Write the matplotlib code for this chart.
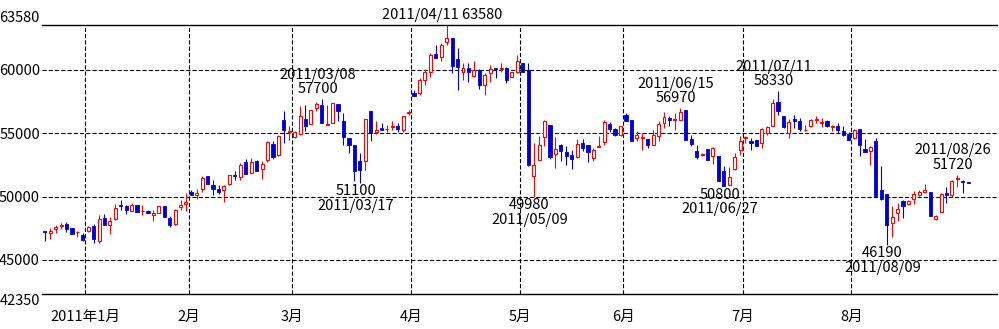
import numpy as np
import matplotlib.pyplot as plt

plt.rcParams['font.family'] = ['Noto Sans CJK JP', 'DejaVu Sans']
plt.rcParams['lines.scale_dashes'] = False

# daily candles, last days of 2010/12 to 2011/08/30 (one entry per trading day)
opens = [47260, 47130, 47470, 47680, 47860, 47550, 47180, 47000, 47310, 47710,
         46520, 48340, 47730, 48260, 49360, 49230, 48840, 49310, 48860, 48890,
         48520, 48680, 49280, 48340, 47840, 49150, 49410, 50390, 50150, 50600,
         51650, 50940, 50620, 50490, 50990, 51670, 51540, 52700, 51860, 52780,
         52170, 52860, 54170, 53300, 56060, 55060, 54690, 54960, 56140, 55720,
         56980, 57240, 55610, 55800, 57290, 55930, 54620, 54090, 52780, 52780,
         56720, 55090, 55400, 55320, 55480, 55590, 55270, 56590, 58210, 58210,
         59210, 59870, 61230, 61050, 62230, 62500, 60840, 59820, 60130, 59550,
         60000, 58820, 59740, 60180, 60080, 60180, 59420, 59870, 60530, 60000,
         51590, 52850, 54690, 55670, 53380, 54090, 53510, 53300, 53120, 54220,
         54090, 53040, 53900, 54300, 55740, 55320, 54880, 56450, 56060, 54620,
         54590, 54560, 54090, 54750, 55800, 56220, 56060, 56060, 56800, 54560,
         53560, 53250, 53750, 53170, 53170, 51990, 50910, 52200, 53640, 54590,
         54410, 54460, 54220, 55010, 55530, 57430, 56320, 55010, 56140, 55930,
         55220, 55530, 56010, 55800, 55980, 55480, 55530, 55140, 54930, 54610,
         55320, 53770, 53620, 54350, 50540, 50230, 47920, 48700, 49680, 49410,
         49810, 50100, 50330, 50360, 48230, 48760, 50280, 50150, 51410, 51200,
         51150]
highs = [47310, 47520, 47730, 47920, 47970, 47550, 47260, 47130, 47650, 47840,
         48520, 48650, 48360, 49440, 49760, 49360, 49490, 49360, 49360, 48970,
         48970, 49280, 49280, 48440, 49050, 49760, 50280, 50540, 50620, 51590,
         51650, 51280, 50940, 50940, 51730, 51990, 52650, 52990, 53040, 52910,
         52780, 54350, 54350, 54850, 56720, 55530, 55140, 57110, 57240, 56800,
         57430, 57700, 57240, 57370, 57290, 56590, 54620, 54090, 53430, 56110,
         56720, 55980, 55800, 55670, 55930, 55800, 56380, 56850, 58420, 59340,
         60050, 61310, 61970, 62100, 63580, 62500, 61710, 60530, 60530, 60660,
         60080, 59740, 60390, 60180, 60530, 60260, 59870, 61180, 60530, 60530,
         54220, 54750, 56010, 55670, 54690, 54170, 53960, 53700, 54540, 54540,
         54090, 53830, 54800, 56060, 55850, 55380, 55590, 56590, 56060, 55140,
         55010, 54560, 55270, 55930, 56660, 56380, 56590, 56970, 56800, 54880,
         54090, 53430, 53750, 53900, 53170, 52380, 52330, 53430, 54800, 54750,
         54620, 54460, 55400, 55530, 57690, 58330, 56320, 56110, 56450, 56190,
         55670, 56110, 56320, 56240, 56060, 55670, 55800, 55530, 55060, 55350,
         55350, 54540, 53960, 54620, 52440, 50230, 49280, 49490, 49760, 49760,
         50470, 50490, 50990, 50360, 48570, 50280, 50750, 51330, 51720, 51330,
         51150]
lows = [46520, 46660, 47130, 47440, 47210, 47020, 46810, 46520, 47210, 46340,
        46340, 47730, 47020, 48130, 48970, 48600, 48840, 48760, 48520, 48680,
        48050, 48680, 48360, 47600, 47790, 48920, 48840, 50100, 49840, 50330,
        50990, 50100, 50230, 49550, 50940, 51280, 51280, 51780, 51860, 51990,
        51380, 52700, 52990, 53170, 54220, 54480, 54620, 54880, 55190, 55720,
        56720, 55800, 55610, 55800, 55930, 54090, 53430, 51200, 51100, 52120,
        54350, 54930, 55220, 55060, 55220, 55060, 55090, 56450, 57900, 58030,
        58820, 59470, 60920, 60710, 61970, 59740, 58420, 59210, 59080, 59400,
        58480, 58030, 59080, 59340, 59870, 59000, 59420, 59790, 59820, 52380,
        49980, 52850, 54010, 52960, 52250, 52780, 52460, 52170, 53040, 53560,
        52700, 52780, 53900, 54090, 55060, 54750, 54800, 55930, 54350, 54350,
        53700, 53830, 54040, 54350, 55400, 55590, 55270, 56060, 54480, 54010,
        52990, 53170, 52910, 52570, 51200, 50800, 50910, 52120, 53300, 54220,
        53700, 53980, 53830, 54880, 55530, 56450, 55400, 54610, 55400, 55140,
        55190, 55480, 55800, 55480, 55480, 55140, 55010, 54800, 54430, 54560,
        53170, 53510, 52510, 50020, 49760, 46190, 46810, 48050, 48310, 49360,
        49410, 50020, 50330, 48440, 48130, 48760, 49490, 49970, 50750, 50280,
        51100]
closes = [47180, 47310, 47630, 47720, 47470, 47020, 47210, 46600, 47580, 46660,
          48260, 47730, 48100, 49100, 49230, 48970, 49360, 48760, 48890, 48680,
          48730, 49280, 48360, 47730, 48970, 49360, 49570, 50100, 50260, 51460,
          50990, 50620, 50360, 50860, 51670, 51590, 52510, 51780, 52700, 51990,
          52590, 54270, 53090, 54750, 55220, 55190, 55060, 56380, 55530, 56800,
          57320, 55800, 55690, 57370, 56720, 54690, 54090, 51990, 52120, 56110,
          55010, 55270, 55220, 55350, 55590, 55320, 56380, 56660, 57900, 59210,
          59870, 61180, 60970, 61970, 62500, 60340, 60260, 60130, 59870, 59950,
          58820, 59610, 60050, 60080, 60130, 59210, 59870, 60710, 59820, 52510,
          52510, 54090, 55930, 53120, 53770, 53560, 53220, 52990, 54170, 53830,
          53490, 53640, 54010, 55850, 55320, 54880, 55530, 55930, 54350, 54880,
          54670, 54090, 54880, 55740, 56270, 56030, 56140, 56640, 54480, 54140,
          53120, 53350, 52910, 53830, 51200, 50860, 51540, 53120, 54380, 54670,
          54220, 53980, 55350, 55460, 57370, 56770, 55480, 55850, 55930, 55320,
          55270, 56060, 56140, 55880, 55590, 55530, 55270, 54880, 54480, 55220,
          54090, 53510, 53880, 50020, 49830, 47730, 48390, 49050, 49280, 49620,
          50230, 50330, 50540, 48440, 48490, 50230, 50150, 51250, 51460, 51150,
          51100]

# month axis: index of first candle of each month
month_first = [8, 27, 46, 68, 88, 107, 129, 149]
month_labels = ['2011年1月', '2月', '3月', '4月', '5月', '6月', '7月', '8月']

y_min, y_max = 42350, 63580
y_ticks = [42350, 45000, 50000, 55000, 60000, 63580]

# marked highs / lows: (candle index, date, kind)
marks = [(51, '2011/03/08', 'high'), (58, '2011/03/17', 'low'),
         (74, '2011/04/11', 'high'), (90, '2011/05/09', 'low'),
         (117, '2011/06/15', 'high'), (125, '2011/06/27', 'low'),
         (135, '2011/07/11', 'high'), (155, '2011/08/09', 'low'),
         (168, '2011/08/26', 'high')]

red = '#FF0000'
blue = '#0000CC'

fig = plt.figure(figsize=(9.99, 3.29), dpi=100)
ax = fig.add_axes([42 / 999, 35.5 / 329, 955 / 999, 269 / 329])

o = np.array(opens)
h = np.array(highs)
l = np.array(lows)
c = np.array(closes)
x = np.arange(len(o))
up = c >= o

# wicks first, bodies on top
ax.vlines(x[up], l[up], h[up], color=red, linewidth=0.8, zorder=3)
ax.vlines(x[~up], l[~up], h[~up], color=blue, linewidth=0.8, zorder=3)
ax.bar(x[up], c[up] - o[up], bottom=o[up], width=0.55, facecolor='white',
       edgecolor=red, linewidth=0.8, zorder=4)
ax.bar(x[~up], o[~up] - c[~up], bottom=c[~up], width=0.6, facecolor=blue,
       edgecolor=blue, linewidth=0.6, zorder=4)

ax.set_xlim(-0.5, 175.3)
ax.set_ylim(y_min, y_max)

# grid
for v in y_ticks[1:-1]:
    ax.axhline(v, color='black', linewidth=0.8, linestyle=(0, (3, 1.5)), zorder=1)
for m in month_first:
    ax.axvline(m - 0.5, color='black', linewidth=0.8, linestyle=(0, (3, 1.5)), zorder=1)

ax.set_yticks(y_ticks)
ax.set_yticklabels([str(v) for v in y_ticks])
ylabels = ax.get_yticklabels()
ylabels[0].set_verticalalignment('top')
ylabels[-1].set_verticalalignment('bottom')
ax.set_xticks([m - 0.5 for m in month_first])
ax.set_xticklabels(month_labels)
ax.tick_params(axis='y', length=0, pad=1.5, labelsize=10.5)
ax.tick_params(axis='x', length=0, pad=12, labelsize=10.5)

for side in ['left', 'right']:
    ax.spines[side].set_visible(False)
for side in ['top', 'bottom']:
    ax.spines[side].set_linewidth(1.0)

for i, date, kind in marks:
    if kind == 'high':
        if h[i] >= y_max:
            txt = f'{date} {h[i]}'
        else:
            txt = f'{date}\n{h[i]}'
        ax.annotate(txt, xy=(i, h[i]), xytext=(-3, 2), textcoords='offset points',
                    ha='center', va='bottom', fontsize=10.5, linespacing=1.05,
                    annotation_clip=False)
    else:
        ax.annotate(f'{l[i]}\n{date}', xy=(i, l[i]), xytext=(-3, -1),
                    textcoords='offset points', ha='center', va='top',
                    fontsize=10.5, linespacing=1.05)

fig.savefig('out.png', dpi=100)
